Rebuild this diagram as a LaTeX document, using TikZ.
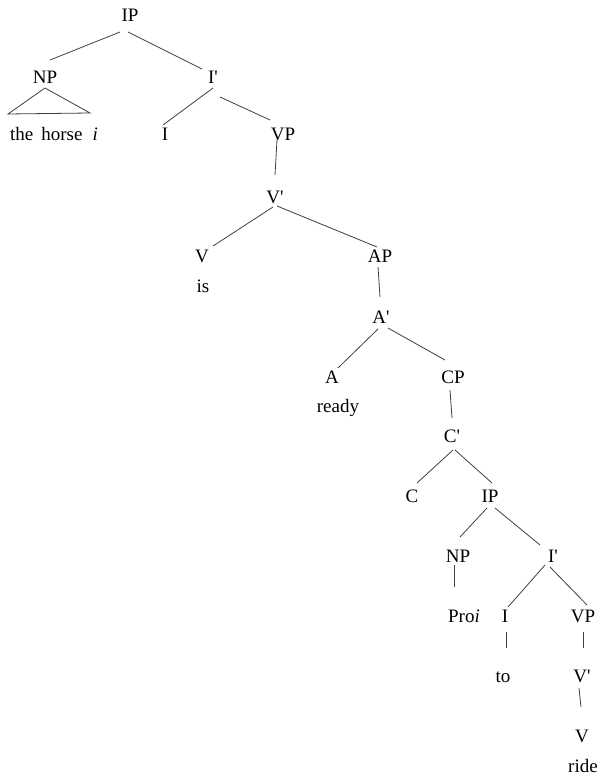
\documentclass[tikz,border=0pt]{standalone}
\usepackage{fontspec}
\setmainfont{Liberation Serif}
\newcommand\pr{\textquotesingle}
\begin{document}
\begin{tikzpicture}[x=1pt,y=-1pt,
  lab/.style={anchor=base,inner sep=0pt,font=\fontsize{19}{21}\selectfont},
  br/.style={line width=0.8pt,black!75}]
\useasboundingbox (0,0) rectangle (598,778);
\fill[white] (0,0) rectangle (598,778);
% nodes (placed at baselines)
\node[lab] (IPa) at (130,21.5) {IP};
\node[lab] (NPa) at (45,84) {NP};
\node[lab] (Iba) at (213,84) {I\pr};
\node[lab] (horse) at (54,141) {the\hspace{8pt}horse\hspace{10pt}\textit{i}};
\node[lab] (Ia) at (165,141) {I};
\node[lab] (VPa) at (283,141) {VP};
\node[lab] (Vba) at (275,203) {V\pr};
\node[lab] (Va) at (202,262) {V};
\node[lab] (is) at (203,292) {is};
\node[lab] (AP) at (380,262) {AP};
\node[lab] (Ab) at (381,323) {A\pr};
\node[lab] (A) at (332,383) {A};
\node[lab] (ready) at (338,412) {ready};
\node[lab] (CP) at (453,383) {CP};
\node[lab] (Cb) at (452,442) {C\pr};
\node[lab] (C) at (412,502) {C};
\node[lab] (IPb) at (490,502) {IP};
\node[lab] (NPb) at (458,562) {NP};
\node[lab] (Ibb) at (553,562) {I\pr};
\node[lab] (pro) at (464,622) {Pro\textit{i}};
\node[lab] (Ib) at (505,622) {I};
\node[lab] (VPb) at (583,622) {VP};
\node[lab] (to) at (503,682) {to};
\node[lab] (Vbb) at (582,682) {V\pr};
\node[lab] (Vb) at (582,742) {V};
\node[lab] (ride) at (583,772) {ride};
% branches
\draw[br] ([shift={(-10,10.5)}]IPa.base) -- ([shift={(5,-24)}]NPa.base);
\draw[br] ([shift={(-2,10.5)}]IPa.base) -- ([shift={(-11,-15)}]Iba.base);
\draw[br] ([shift={(0,4)}]NPa.base) -- ([shift={(-37,30)}]NPa.base) -- ([shift={(45,29)}]NPa.base) -- cycle;
\draw[br] ([shift={(0,4)}]Iba.base) -- ([shift={(-2,-16)}]Ia.base);
\draw[br] ([shift={(7,13)}]Iba.base) -- ([shift={(-13,-21)}]VPa.base);
\draw[br] ([shift={(-6,-1)}]VPa.base) -- ([shift={(0,-28)}]Vba.base);
\draw[br] ([shift={(-2,4)}]Vba.base) -- ([shift={(11,-16)}]Va.base);
\draw[br] ([shift={(2,3)}]Vba.base) -- ([shift={(-3,-15)}]AP.base);
\draw[br] ([shift={(-2,5)}]AP.base) -- ([shift={(-1,-26)}]Ab.base);
\draw[br] ([shift={(-3,6)}]Ab.base) -- ([shift={(6,-15)}]A.base);
\draw[br] ([shift={(7,5)}]Ab.base) -- ([shift={(-8,-23)}]CP.base);
\draw[br] ([shift={(-3,7)}]CP.base) -- ([shift={(0,-24)}]Cb.base);
\draw[br] ([shift={(1,8)}]Cb.base) -- ([shift={(5,-19)}]C.base);
\draw[br] ([shift={(3,8)}]Cb.base) -- ([shift={(2,-19)}]IPb.base);
\draw[br] ([shift={(-3,6)}]IPb.base) -- ([shift={(2,-25)}]NPb.base);
\draw[br] ([shift={(5,6)}]IPb.base) -- ([shift={(-13,-17)}]Ibb.base);
\draw[br] ([shift={(-4,3)}]NPb.base) -- ([shift={(-10,-35)}]pro.base);
\draw[br] ([shift={(-8,3)}]Ibb.base) -- ([shift={(3,-15)}]Ib.base);
\draw[br] ([shift={(-3,5)}]Ibb.base) -- ([shift={(4,-17)}]VPb.base);
\draw[br] ([shift={(1,10)}]Ib.base) -- ([shift={(3,-34)}]to.base);
\draw[br] ([shift={(0,10)}]VPb.base) -- ([shift={(1,-34)}]Vbb.base);
\draw[br] ([shift={(-3,6)}]Vbb.base) -- ([shift={(-1,-35)}]Vb.base);
\end{tikzpicture}
\end{document}
